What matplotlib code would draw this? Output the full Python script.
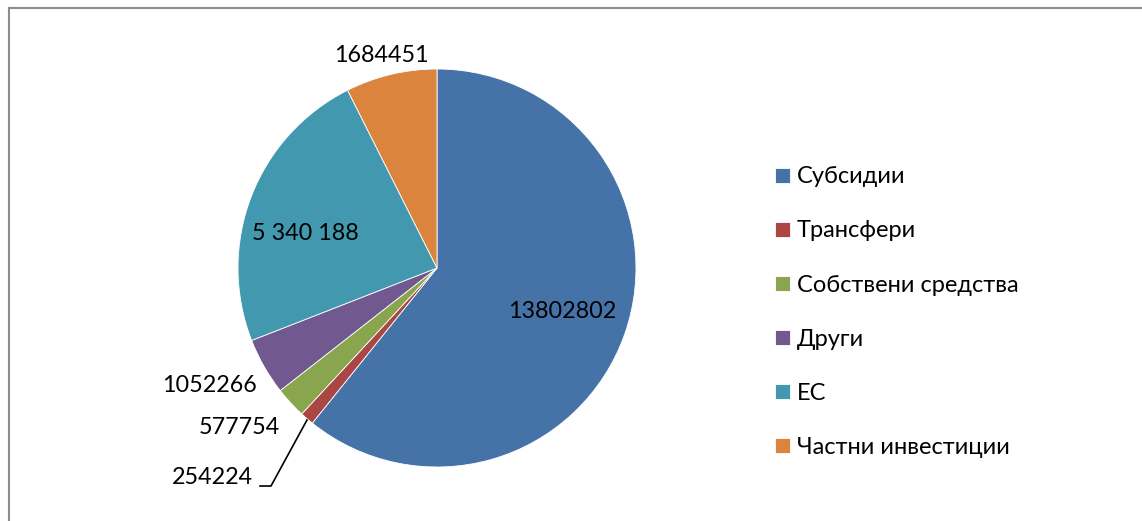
import matplotlib
matplotlib.use("Agg")
import matplotlib.pyplot as plt
from matplotlib.lines import Line2D

plt.rcParams['font.family'] = ['Lato', 'DejaVu Sans']

categories = ["Субсидии", "Трансфери", "Собствени средства", "Други", "ЕС", "Частни инвестиции"]
values = [13802802, 254224, 577754, 1052266, 5340188, 1684451]
value_labels = ["13802802", "254224", "577754", "1052266", "5 340 188", "1684451"]
colors = ["#4572A7", "#AA4643", "#89A54E", "#71588F", "#4198AF", "#DB843D"]

W, H = 1142, 521
fig = plt.figure(figsize=(W / 100, H / 100), dpi=100)
ax = fig.add_axes([0, 0, 1, 1])

cx, cy, r = 437, 268, 199
wedges, _ = ax.pie(values, colors=colors, startangle=90, counterclock=False,
                   center=(cx, H - cy), radius=r,
                   wedgeprops=dict(edgecolor="white", linewidth=0.6))
ax.set_xlim(0, W)
ax.set_ylim(0, H)
ax.set_aspect('auto')
ax.axis('off')

# data labels (pixel positions)
label_pos = [(562, 311), (212, 478), (239, 427), (210, 386), (305, 234), (381, 55)]
for txt, (x, y) in zip(value_labels, label_pos):
    ax.text(x, H - y, txt, ha='center', va='center', fontsize=16.8, color='black')

# leader line for small slice
lx = [260, 271, 307]
ly = [486, 486, 420]
ax.plot(lx, [H - v for v in ly], color='black', lw=1.2)

# legend
leg = fig.legend(wedges, categories, loc='upper left',
                 bbox_to_anchor=(766 / W, 1 - 157 / H),
                 frameon=False, fontsize=17, handlelength=0.6, handleheight=0.6,
                 handletextpad=0.3, labelspacing=1.4, borderaxespad=0)

# outer frame
fig.add_artist(Line2D([8.5 / W, 8.5 / W], [0, 1 - 7.5 / H], transform=fig.transFigure,
                      color='#8c8c8c', lw=1.5))
fig.add_artist(Line2D([8.5 / W, 1], [1 - 7.5 / H, 1 - 7.5 / H], transform=fig.transFigure,
                      color='#8c8c8c', lw=1.5))

fig.savefig("out.png", dpi=100)
